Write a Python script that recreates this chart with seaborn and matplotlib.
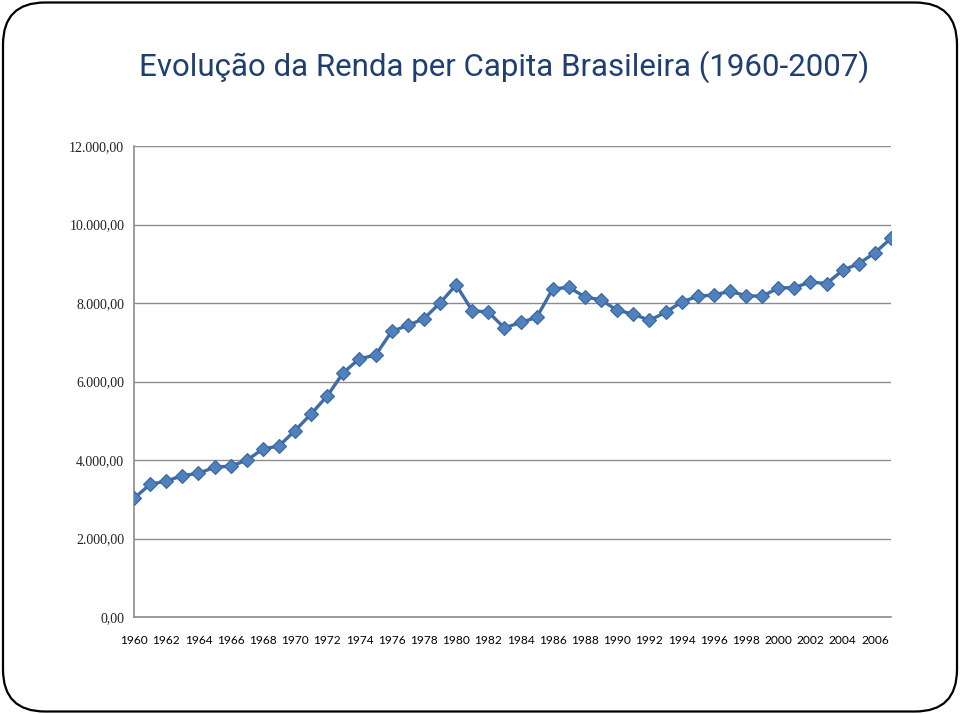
import pandas as pd
import seaborn as sns
import matplotlib.pyplot as plt
from matplotlib.patches import FancyBboxPatch
from matplotlib.ticker import FuncFormatter, MultipleLocator

# Data
years = list(range(1960, 2008))
renda = [3023, 3380, 3464, 3600, 3661, 3814, 3847, 3990, 4281, 4358,
         4749, 5175, 5634, 6229, 6579, 6673, 7276, 7429, 7600, 8001,
         8461, 7804, 7771, 7363, 7506, 7633, 8359, 8399, 8154, 8080,
         7812, 7720, 7557, 7761, 8027, 8170, 8205, 8297, 8188, 8170,
         8384, 8392, 8537, 8494, 8833, 9004, 9278, 9650]
title = "Evolução da Renda per Capita Brasileira (1960-2007)"

df = pd.DataFrame({"ano": years, "renda": renda})

sns.set_style("white")

fig = plt.figure(figsize=(9.6, 7.14), dpi=100)

# slide frame with rounded corners
bg = fig.add_axes([0, 0, 1, 1])
bg.set_xlim(0, 960)
bg.set_ylim(714, 0)
bg.axis("off")
frame = FancyBboxPatch((3, 2.5), 954, 709, boxstyle="round,pad=0,rounding_size=42",
                       fc="white", ec="black", lw=1.6)
bg.add_patch(frame)

fig.text(0.5255, 0.906, title, ha="center", va="center", fontsize=22.5,
         color="#1F3F73", family=["Roboto", "DejaVu Sans"])

ax = fig.add_axes([134 / 960, 1 - 617 / 714, (891 - 134) / 960, (617 - 146) / 714])
ax.patch.set_alpha(0)

sns.lineplot(data=df, x="ano", y="renda", ax=ax, color="#3E6DA8", lw=2.4,
             marker="D", markersize=7.5, markerfacecolor="#4F81BD",
             markeredgecolor="#3A64A0", markeredgewidth=0.8, zorder=3)

ax.set_xlim(1960, 2007)
ax.set_ylim(0, 12000)
ax.yaxis.set_major_locator(MultipleLocator(2000))
ax.xaxis.set_major_locator(MultipleLocator(2))
ax.yaxis.set_major_formatter(FuncFormatter(lambda v, p: f"{v:,.2f}".replace(",", "X").replace(".", ",").replace("X", ".")))
ax.grid(axis="y", color="#8C8C8C", lw=1)
ax.set_axisbelow(True)

for s in ["top", "right"]:
    ax.spines[s].set_visible(False)
for s in ["left", "bottom"]:
    ax.spines[s].set_color("#8C8C8C")
    ax.spines[s].set_linewidth(1.2)

ax.tick_params(axis="both", direction="out", length=4, width=1, color="#8C8C8C")
ax.tick_params(axis="x", pad=9)
ax.tick_params(axis="y", pad=3)
ax.set_xlabel("")
ax.set_ylabel("")

for lab in ax.get_yticklabels():
    lab.set_family("Liberation Serif")
    lab.set_fontsize(10)
    lab.set_color("#222222")
for lab in ax.get_xticklabels():
    lab.set_family("Lato")
    lab.set_fontsize(8.6)
    lab.set_color("black")

fig.savefig("out.png", dpi=100)
